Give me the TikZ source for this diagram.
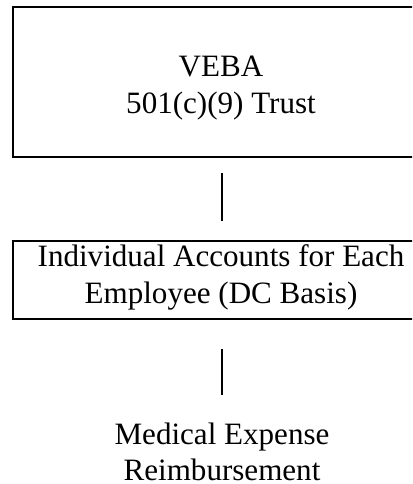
\documentclass[tikz,border=0pt]{standalone}
\usepackage{fontspec}
\setmainfont{Liberation Serif}
\begin{document}
\begin{tikzpicture}[x=0.75pt,y=-0.75pt,
  boxstyle/.style={draw, line width=1.5pt, rectangle, inner sep=0pt},
  txt/.style={font=\fontsize{23.3}{27.5}\selectfont, align=center},
  link/.style={line width=1.5pt}]
  \clip (0,0) rectangle (412,484);
  % boxes
  \node[boxstyle, minimum width=417.5*0.75pt, minimum height=150*0.75pt] (trust) at (222,82) {};
  \node[txt] (trusttext) at (221,88) {VEBA\\501(c)(9) Trust};
  \node[boxstyle, minimum width=417.5*0.75pt, minimum height=78*0.75pt] (accts) at (222,280) {};
  \node[txt] (acctstext) at (221,277.5) {Individual Accounts for Each\\Employee (DC Basis)};
  \node[txt, inner sep=0pt] (med) at (222,452) {Medical Expense\\Reimbursement};
  % connectors
  \draw[link, shorten <=11.25pt, shorten >=14.25pt] (trust.south) -- (accts.north);
  \draw[link, shorten <=21.75pt, shorten >=20.5pt] (accts.south) -- (med.north);
\end{tikzpicture}
\end{document}
